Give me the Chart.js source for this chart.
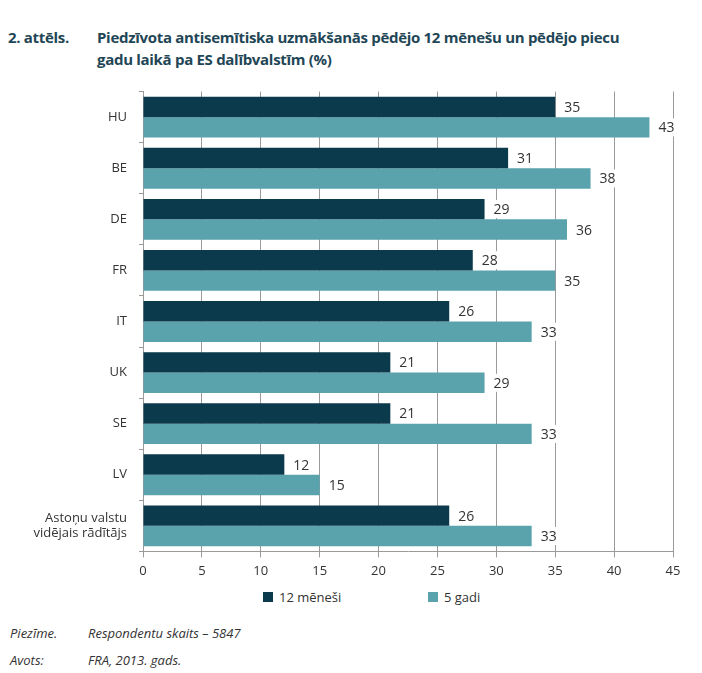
<!DOCTYPE html>
<html>
<head>
<meta charset="utf-8">
<script src="https://cdn.jsdelivr.net/npm/chart.js@4.4.0/dist/chart.umd.min.js"></script>
<style>
    body { margin: 0; background: #fff; font-family: "Open Sans", sans-serif; width: 702px; height: 673px; position: relative; overflow: hidden; }
    .title { position: absolute; top: 26px; left: 8px; color: #1f4656; font-weight: bold; font-size: 15px; line-height: 22px; letter-spacing: -0.3px; }
    .title .num { position: absolute; left: 0; top: 0; }
    .title .txt { margin-left: 89px; width: 560px; }
    #wrap { position: absolute; left: 0; top: 64px; width: 702px; height: 521px; }
    .legend { position: absolute; top: 588px; left: 0; width: 702px; font-size: 13px; color: #333; }
    .legend span.item { position: absolute; display: flex; align-items: center; }
    .legend i { display: inline-block; width: 10px; height: 10px; margin-right: 6px; }
    .foot { position: absolute; left: 10px; font-style: italic; font-size: 13px; color: #333; }
    .foot b { font-weight: normal; display: inline-block; width: 78px; }
</style>
</head>
<body>
<div class="title"><span class="num">2. attēls.</span><div class="txt">Piedzīvota antisemītiska uzmākšanās pēdējo 12 mēnešu un pēdējo piecu gadu laikā pa ES dalībvalstīm (%)</div></div>
<div id="wrap"><canvas id="chart"></canvas></div>
<div class="legend">
    <span class="item" style="left:263px"><i style="background:#0b3a4c"></i>12 mēneši</span>
    <span class="item" style="left:428px"><i style="background:#5aa2ac"></i>5 gadi</span>
</div>
<div class="foot" style="top:624px"><b>Piezīme.</b>Respondentu skaits – 5847</div>
<div class="foot" style="top:651px"><b>Avots:</b>FRA, 2013. gads.</div>
<script>
    // dati
    const categories = ['HU', 'BE', 'DE', 'FR', 'IT', 'UK', 'SE', 'LV', ['Astoņu valstu', 'vidējais rādītājs']];
    const months12 = [35, 31, 29, 28, 26, 21, 21, 12, 26];
    const years5 = [43, 38, 36, 35, 33, 29, 33, 15, 33];
    const seriesNames = ['12 mēneši', '5 gadi'];
    const xTicks = [0, 5, 10, 15, 20, 25, 30, 35, 40, 45];

    const darkColor = '#0b3a4c';
    const tealColor = '#5aa2ac';

    // vērtību etiķetes ar baltu fonu
    const valueLabels = {
        id: 'valueLabels',
        afterDatasetsDraw(chart) {
            const ctx = chart.ctx;
            ctx.save();
            ctx.font = '14px "Open Sans", sans-serif';
            ctx.textBaseline = 'middle';
            chart.data.datasets.forEach((ds, i) => {
                chart.getDatasetMeta(i).data.forEach((bar, j) => {
                    const text = String(ds.data[j]);
                    const w = ctx.measureText(text).width;
                    const x = bar.x + 9;
                    ctx.fillStyle = '#fff';
                    ctx.fillRect(x - 3, bar.y - 9, w + 6, 18);
                    ctx.fillStyle = '#333';
                    ctx.fillText(text, x, bar.y + 1);
                });
            });
            ctx.restore();
        }
    };

    new Chart(document.getElementById('chart'), {
        type: 'bar',
        data: {
            labels: categories,
            datasets: [
                { label: seriesNames[0], data: months12, backgroundColor: darkColor },
                { label: seriesNames[1], data: years5, backgroundColor: tealColor }
            ]
        },
        options: {
            indexAxis: 'y',
            responsive: true,
            maintainAspectRatio: false,
            animation: false,
            datasets: { bar: { categoryPercentage: 0.8, barPercentage: 1.0 } },
            layout: { padding: { top: 0, right: 29, bottom: 0, left: 0 } },
            scales: {
                x: {
                    min: 0,
                    max: 45,
                    afterBuildTicks: axis => { axis.ticks = xTicks.map(v => ({ value: v })); },
                    grid: { color: '#9a9a9a', lineWidth: 1, tickLength: 6, drawTicks: true },
                    border: { color: '#9a9a9a' },
                    ticks: { color: '#333', font: { family: 'Open Sans', size: 13 }, padding: 6 }
                },
                y: {
                    afterFit: axis => { axis.width = 143; },
                    grid: { offset: true, drawOnChartArea: false, tickLength: 4, color: '#9a9a9a' },
                    border: { color: '#9a9a9a' },
                    ticks: { color: '#333', font: { family: 'Open Sans', size: 13 }, padding: 12 }
                }
            },
            plugins: {
                legend: { display: false },
                tooltip: { enabled: false }
            }
        },
        plugins: [valueLabels]
    });
</script>
</body>
</html>
